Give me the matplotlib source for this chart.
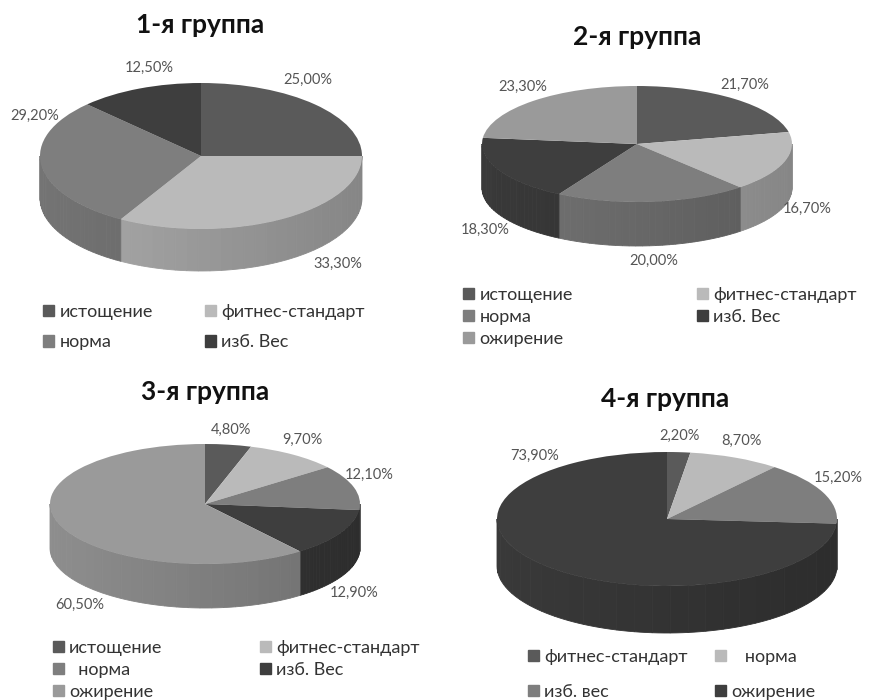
import numpy as np
import matplotlib.pyplot as plt
from matplotlib.patches import Rectangle
from matplotlib.colors import to_rgb

plt.rcParams['font.family'] = ['Lato', 'DejaVu Sans']

# --- data ---
titles = ["1-я группа", "2-я группа", "3-я группа", "4-я группа"]

names1 = ["истощение", "фитнес-стандарт", "норма", "изб. Вес"]
vals1 = [25.0, 33.3, 29.2, 12.5]

names2 = ["истощение", "фитнес-стандарт", "норма", "изб. Вес", "ожирение"]
vals2 = [21.7, 16.7, 20.0, 18.3, 23.3]

names3 = ["истощение", "фитнес-стандарт", "  норма", "изб. Вес", "ожирение"]
vals3 = [4.8, 9.7, 12.1, 12.9, 60.5]

names4 = ["фитнес-стандарт", "   норма", "изб. вес", "ожирение"]
vals4 = [2.2, 8.7, 15.2, 73.9]

grays = ["#5a5a5a", "#bababa", "#7e7e7e", "#3e3e3e", "#9a9a9a"]

W, H = 871, 700
fig = plt.figure(figsize=(W / 100, H / 100), dpi=100)


def shade(c, f):
    return tuple(min(1, v * f) for v in to_rgb(c))


def pie3d(title, names, vals, geom, title_xy, leg_xy, colsp, rowsp, lab_pos=None):
    cx, cy, rx, ry, d = geom
    ax = fig.add_axes([(cx - rx) / W, 1 - (cy + ry) / H, 2 * rx / W, 2 * ry / H])
    dd = d / ry
    cols = grays[:len(vals)]
    fr = np.array(vals) / sum(vals)
    bnd = 90 - 360 * np.concatenate([[0], np.cumsum(fr)])

    # side wall (front half only), shaded lighter on the left
    for i in range(len(vals)):
        lo, hi = max(bnd[i + 1], -180), min(bnd[i], 0)
        if lo >= hi:
            continue
        edges = np.linspace(lo, hi, 30)
        for a0, a1 in zip(edges[:-1], edges[1:]):
            t = np.radians(np.linspace(a0, a1, 4))
            xs = np.concatenate([np.cos(t), np.cos(t)[::-1]])
            ys = np.concatenate([np.sin(t), np.sin(t)[::-1] - dd])
            f = 0.82 - 0.1 * np.cos(np.radians((a0 + a1) / 2))
            c = shade(cols[i], f)
            ax.fill(xs, ys, color=c, lw=0.6, ec=c, clip_on=False)

    wedges, _ = ax.pie(vals, colors=cols, startangle=90, counterclock=False,
                       radius=1, wedgeprops=dict(linewidth=0))
    for w in wedges:
        w.set_clip_on(False)
    ax.set_aspect('auto')
    ax.set_xlim(-1, 1)
    ax.set_ylim(-1, 1)
    ax.axis('off')

    # percentage labels
    if lab_pos is None:
        lab_pos = [0.5] * len(vals)
    for i, v in enumerate(vals):
        a = np.radians(bnd[i] + (bnd[i + 1] - bnd[i]) * lab_pos[i])
        x = 1.1 * np.cos(a)
        s = np.sin(a)
        y = 1.05 * s + 0.2 if s > 0 else s - dd - 0.27
        ax.text(x, y, f"{v:.2f}%".replace('.', ','), ha='center', va='center',
                fontsize=10.5, color='#555555', clip_on=False)

    fig.text(title_xy[0] / W, 1 - title_xy[1] / H, title, ha='center', va='center',
             fontsize=19, fontweight='bold', color='#111111')

    # legend, row-major order
    n = len(vals)
    order = list(range(0, n, 2)) + list(range(1, n, 2))
    handles = [Rectangle((0, 0), 1, 1, color=cols[k]) for k in order]
    labels = [names[k] for k in order]
    fig.legend(handles, labels, ncol=2, loc='upper left',
               bbox_to_anchor=(leg_xy[0] / W, 1 - leg_xy[1] / H),
               frameon=False, fontsize=13, handlelength=0.6, handleheight=0.6,
               handletextpad=0.3, columnspacing=colsp, labelspacing=rowsp,
               borderpad=0, borderaxespad=0, labelcolor='#333333')


pie3d(titles[0], names1, vals1, (201, 156, 161, 73, 42), (200, 25), (43, 304), 2.9, 0.8,
      [0.41, 0.33, 0.76, 0.62])
pie3d(titles[1], names2, vals2, (637, 144, 155, 58, 44), (637, 37), (463, 287), 6.9, 0.33,
      [0.5, 0.28, 0.5, 0.5, 0.5])
pie3d(titles[2], names3, vals3, (205, 504, 155, 60, 44), (205, 392), (53, 640), 5.4, 0.33,
      [0.5, 0.5, 0.5, 0.5, 0.39])
pie3d(titles[3], names4, vals4, (667, 519, 170, 67, 47), (665, 399), (528, 649), 1.5, 1.05,
      [0.5, 0.5, 0.5, 0.83])

fig.savefig("out.png", dpi=100, facecolor='white')
